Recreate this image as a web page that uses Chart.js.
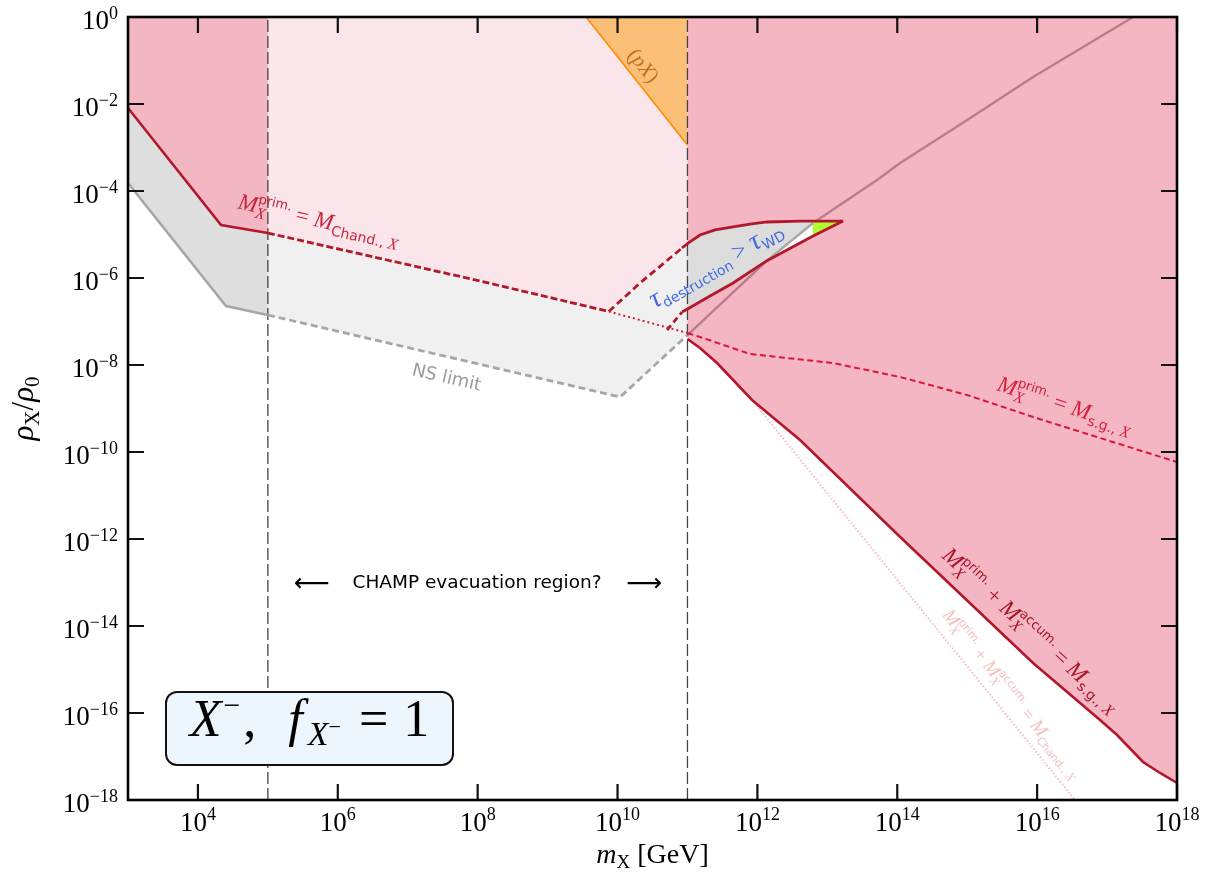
<!DOCTYPE html>
<html>
<head>
<meta charset="utf-8">
<script src="https://cdn.jsdelivr.net/npm/chart.js@4.4.1/dist/chart.umd.min.js"></script>
<style>
  body { margin: 0; background: #fff; }
  #wrap { width: 1219px; height: 879px; }
</style>
</head>
<body>
<div id="wrap"><canvas id="chart" width="1219" height="879"></canvas></div>
<script>
// ===== X^- , f = 1 : rho_X/rho_0 vs m_X =====

// tick exponents
const xTickExp = [4, 6, 8, 10, 12, 14, 16, 18];
const yTickExp = [0, -2, -4, -6, -8, -10, -12, -14, -16, -18];

// CHAMP evacuation region edges [GeV]
const champX = [1e5, 1e11];

// M_prim = M_Chand (solid / dashed / dotted parts)
const chandSolidX = [1e3, 2.14e4, 1e5];
const chandSolidY = [8.1e-3, 1.65e-5, 1.08e-5];
const chandDashX = [1e5, 1.08e8, 7.5e9];
const chandDashY = [1.08e-5, 8.53e-7, 1.7e-7];
const chandDotX = [7.5e9, 1e11];
const chandDotY = [1.7e-7, 5.44e-8];

// NS limit
const nsSolidX = [1e3, 2.52e4, 1e5];
const nsSolidY = [1.53e-4, 2.27e-7, 1.41e-7];
const nsDashX = [1e5, 1.09e10, 1e11];
const nsDashY = [1.41e-7, 1.84e-9, 4.89e-8];

// WD-type limit continuing the NS curve
const wdX = [1e11, 1.37e12, 6.25e12, 5.14e13, 1.10e14, 1e15, 8.75e15, 2.36e17];
const wdY = [4.89e-8, 2.5e-6, 1.84e-5, 1.79e-4, 4.40e-4, 4.29e-3, 4.18e-2, 1];

// tau_destruction > tau_WD island
const blobUpDashX = [7.5e9, 2.10e10, 8.36e10];
const blobUpDashY = [1.7e-7, 7.67e-7, 4.90e-6];
const blobUpX = [8.36e10, 1e11, 1.51e11, 2.48e11, 4.49e11, 7.85e11, 1.37e12, 4.07e12, 1.68e13];
const blobUpY = [4.90e-6, 6.15e-6, 9.74e-6, 1.27e-5, 1.49e-5, 1.74e-5, 1.94e-5, 2.04e-5, 2.04e-5];
const blobLowX = [8.36e10, 1e11, 2.10e11, 4.49e11, 1.37e12, 6.25e12, 1.68e13];
const blobLowY = [1.65e-7, 1.94e-7, 3.86e-7, 7.67e-7, 2.5e-6, 9.24e-6, 2.04e-5];
const blobLowDashX = [5.11e10, 8.36e10];
const blobLowDashY = [6.38e-8, 1.65e-7];
const greenX = [6.25e12, 1.68e13, 6.25e12];
const greenY = [2.04e-5, 2.04e-5, 9.24e-6];

// M_prim = M_sg
const sgX = [1e11, 1.51e11, 7.85e11, 1.21e13, 1.10e14, 1e15, 8.75e15, 7.94e16, 1e18];
const sgY = [5.44e-8, 4.40e-8, 1.79e-8, 1.11e-8, 5.30e-9, 2.04e-9, 6.38e-10, 2.10e-10, 5.89e-11];

// M_prim + M_accum = M_sg
const accumX = [1e11, 1.51e11, 2.65e11, 4.79e11, 8.38e11, 4.07e12, 1.10e14, 8.75e15, 7.94e16, 1.39e17, 3.27e17, 5.73e17, 1e18];
const accumY = [3.96e-8, 2.46e-8, 1.11e-8, 4.07e-9, 1.57e-9, 1.89e-10, 1.11e-12, 1.41e-15, 6.90e-17, 3.12e-17, 7.48e-18, 4.18e-18, 2.46e-18];

// M_prim + M_accum = M_Chand (faint)
const chandAccumX = [8.38e11, 3.48e16];
const chandAccumY = [1.57e-9, 1e-18];

// (pX) bound
const pxX = [3.55e9, 1e11];
const pxY = [1, 1.14e-3];

const X_MIN = 1e3, X_MAX = 1e18, Y_MIN = 1e-18, Y_MAX = 1;

// ---- helpers ----
const pts = (xs, ys) => xs.map((x, i) => ({ x, y: ys[i] }));
const P = (x, y) => ({ x, y });

function area(data, color, order) {
  return { data, showLine: true, fill: 'shape', backgroundColor: color,
           borderColor: 'rgba(0,0,0,0)', borderWidth: 0, pointRadius: 0, order };
}
function curve(data, color, width, dash, order) {
  return { data, showLine: true, fill: false, borderColor: color, borderWidth: width,
           borderDash: dash, pointRadius: 0, order };
}

// polygons built from the curves above
const darkPinkLeft = [P(X_MIN, Y_MAX), P(champX[0], Y_MAX), ...pts(chandSolidX, chandSolidY).reverse()];
const darkGrayLeft = [...pts(chandSolidX, chandSolidY), ...pts(nsSolidX, nsSolidY).reverse()];
const lightPink = [P(champX[0], Y_MAX), P(champX[1], Y_MAX), P(blobUpX[1], blobUpY[1]), P(blobUpX[0], blobUpY[0]),
  ...pts(blobUpDashX, blobUpDashY).reverse(), ...pts(chandDashX, chandDashY).reverse()];
const lightGray = [...pts(chandDashX, chandDashY), ...pts(blobUpDashX, blobUpDashY), P(blobUpX[1], blobUpY[1]),
  ...pts(nsDashX, nsDashY).reverse()];
const pinkRight = [P(champX[1], Y_MAX), P(X_MAX, Y_MAX), ...pts(accumX, accumY).reverse()];
const blobRight = [...pts(blobUpX, blobUpY).slice(1, 8), P(greenX[0], greenY[0]), P(wdX[2], wdY[2]), P(wdX[1], wdY[1]),
  ...pts(blobLowX, blobLowY).slice(1, 4).reverse()];
const sliver = [P(wdX[1], wdY[1]), P(wdX[2], wdY[2]), P(blobLowX[5], blobLowY[5])];
const pxTri = [P(pxX[0], pxY[0]), P(pxX[1], pxY[1]), P(pxX[1], Y_MAX)];

const RED = '#b2182b';
const datasets = [
  area(darkGrayLeft, '#dedede', 100),
  area(lightPink, '#fae5ea', 99),
  area(lightGray, '#f0f0f0', 98),
  area(darkPinkLeft, '#f3b6c3', 97),
  curve(pts(wdX, wdY), '#ababab', 2.4, [], 96),
  area(pinkRight, 'rgba(220,20,60,0.31)', 95),
  area(blobRight, '#dcdcdc', 94),
  area(sliver, '#ffffff', 93),
  area(pts(greenX, greenY), '#adff2f', 92),
  curve(pts(wdX.slice(1, 3), wdY.slice(1, 3)), '#a8a8a8', 2.4, [], 91),
  area(pxTri, '#fbbf78', 90),
  curve(pts(pxX, pxY), '#ff8c00', 1.6, [], 30),
  curve([P(champX[0], Y_MIN), P(champX[0], Y_MAX)], '#454545', 1.3, [12, 4], 29),
  curve([P(champX[1], Y_MIN), P(champX[1], Y_MAX)], '#454545', 1.3, [12, 4], 29),
  curve(pts(nsSolidX, nsSolidY), '#a6a6a6', 2.5, [], 25),
  curve(pts(nsDashX, nsDashY), '#a6a6a6', 2.8, [7, 4], 25),
  curve(pts(chandAccumX, chandAccumY), '#f2bcbc', 2, [1.5, 2], 24),
  curve(pts(chandSolidX, chandSolidY), RED, 2.6, [], 20),
  curve(pts(chandDashX, chandDashY), RED, 2.8, [7, 3], 20),
  curve(pts(chandDotX, chandDotY), '#cc1f3a', 2, [2, 3], 20),
  curve(pts(blobUpDashX, blobUpDashY), RED, 2.8, [7, 4], 20),
  curve(pts(blobUpX, blobUpY), RED, 2.8, [], 20),
  curve(pts(blobLowX, blobLowY), RED, 2.8, [], 20),
  curve(pts(blobLowDashX, blobLowDashY), RED, 2.8, [6, 4], 20),
  curve(pts(sgX, sgY), '#dc143c', 2, [6, 3.5], 20),
  curve(pts(accumX, accumY), RED, 2.6, [], 20)
];

// ---- text helpers ----
const SERIF = '"Liberation Serif", serif';
const SANS = '"DejaVu Sans", sans-serif';
const it = s => `italic ${s}px ${SERIF}`;
const rm = s => `${s}px ${SERIF}`;
const sf = s => `${s}px ${SANS}`;

function runsWidth(ctx, runs) {
  const w = runs.map(r => {
    const parts = r.sup ? [r.sup, r.sub] : [r];
    return Math.max(...parts.map(p => { ctx.font = p.f; return ctx.measureText(p.t).width; })) + (r.gap || 0);
  });
  return { w, total: w.reduce((a, b) => a + b, 0) };
}
function drawRich(ctx, runs, cx, cy, deg, color, off) {
  ctx.save();
  ctx.translate(cx, cy);
  ctx.rotate(deg * Math.PI / 180);
  ctx.fillStyle = color;
  ctx.textAlign = 'left';
  ctx.textBaseline = 'alphabetic';
  const { w, total } = runsWidth(ctx, runs);
  let x = -total / 2;
  runs.forEach((r, i) => {
    const parts = r.sup ? [r.sup, r.sub] : [r];
    parts.forEach(p => { ctx.font = p.f; ctx.fillText(p.t, x, off + (p.dy || 0)); });
    x += w[i];
  });
  ctx.restore();
}
const MX = (s, tag) => [
  { t: 'M', f: it(s) },
  { sup: { t: tag, f: sf(Math.round(s * 0.58)), dy: -s * 0.42 }, sub: { t: 'X', f: it(Math.round(s * 0.68)), dy: s * 0.22 } }
];
const Msub = (s, tag) => [
  { t: 'M', f: it(s) },
  { t: tag + ', ', f: sf(Math.round(s * 0.6)), dy: s * 0.22 },
  { t: 'X', f: it(Math.round(s * 0.68)), dy: s * 0.22 }
];

const decor = {
  id: 'decor',
  afterDatasetsDraw(chart) {
    const { ctx, chartArea: a } = chart;
    const xs = chart.scales.x, ys = chart.scales.y;
    ctx.save();

    // ticks (inward, all four sides)
    ctx.strokeStyle = '#111';
    ctx.lineWidth = 2.2;
    ctx.beginPath();
    xTickExp.forEach(e => {
      const px = xs.getPixelForValue(Math.pow(10, e));
      ctx.moveTo(px, a.bottom); ctx.lineTo(px, a.bottom - 16);
      ctx.moveTo(px, a.top); ctx.lineTo(px, a.top + 16);
    });
    yTickExp.forEach(e => {
      const py = ys.getPixelForValue(Math.pow(10, e));
      ctx.moveTo(a.left, py); ctx.lineTo(a.left + 16, py);
      ctx.moveTo(a.right, py); ctx.lineTo(a.right - 16, py);
    });
    ctx.stroke();

    // frame
    ctx.strokeStyle = '#000';
    ctx.lineWidth = 2.6;
    ctx.strokeRect(a.left, a.top, a.right - a.left, a.bottom - a.top);

    // tick labels
    const expTxt = e => (e < 0 ? '\u2212' + (-e) : String(e));
    xTickExp.forEach(e => {
      const px = xs.getPixelForValue(Math.pow(10, e));
      drawRich(ctx, [{ t: '10', f: rm(27) }, { t: expTxt(e), f: rm(18), dy: -11 }], px, a.bottom + 31, 0, '#000', 0);
    });
    yTickExp.forEach(e => {
      const py = ys.getPixelForValue(Math.pow(10, e));
      const runs = [{ t: '10', f: rm(27) }, { t: expTxt(e), f: rm(18), dy: -10 }];
      const { total } = runsWidth(ctx, runs);
      drawRich(ctx, runs, a.left - 10 - total / 2, py + 12, 0, '#000', 0);
    });

    // axis titles
    drawRich(ctx, [{ t: 'm', f: it(28) }, { t: 'X', f: rm(19), dy: 5 }, { t: ' [GeV]', f: rm(28) }],
      (a.left + a.right) / 2, 863, 0, '#000', 0);
    drawRich(ctx, [{ t: '\u03c1', f: it(31) }, { t: 'X', f: rm(21), dy: 6 }, { t: '/', f: rm(31) },
      { t: '\u03c1', f: it(31) }, { t: '0', f: rm(21), dy: 6 }],
      33, (a.top + a.bottom) / 2, -90, '#000', 0);

    // curve annotations
    drawRich(ctx, [...MX(23, 'prim.'), { t: ' = ', f: rm(23) }, ...Msub(23, 'Chand.')], 319, 220, 13, '#c8243c', 7);
    drawRich(ctx, [{ t: 'NS limit', f: sf(18) }], 447, 376, 13, '#9b9b9b', 7);
    drawRich(ctx, [{ t: '(', f: rm(21) }, { t: 'pX', f: it(21) }, { t: ')', f: rm(21) }], 643, 66, 51.5, '#c0701e', 6);
    drawRich(ctx, [{ t: '\u03c4', f: it(28) }, { t: 'destruction', f: sf(14), dy: 5 }, { t: ' > ', f: rm(24) },
      { t: '\u03c4', f: it(28) }, { t: 'WD', f: sf(14), dy: 5 }], 716, 265, -30, '#4169e1', 7);
    drawRich(ctx, [...MX(23, 'prim.'), { t: ' = ', f: rm(23) }, ...Msub(23, 's.g.')], 1065, 405, 18, '#d81e3e', 7);
    drawRich(ctx, [...MX(23, 'prim.'), { t: ' + ', f: rm(23) }, ...MX(23, 'accum.'), { t: ' = ', f: rm(23) }, ...Msub(23, 's.g.')],
      1031, 630, 42.5, '#a8142a', 7);
    drawRich(ctx, [...MX(19, 'prim.'), { t: ' + ', f: rm(19) }, ...MX(19, 'accum.'), { t: ' = ', f: rm(19) }, ...Msub(19, 'Chand.')],
      1012, 694, 51.5, '#f2c0c0', 6);

    // CHAMP region note
    ctx.fillStyle = '#000';
    ctx.textBaseline = 'middle';
    ctx.textAlign = 'center';
    ctx.font = sf(18.5);
    ctx.fillText('CHAMP evacuation region?', 477, 583);
    ctx.font = sf(25);
    ctx.fillText('\u27f5', 312, 584);
    ctx.fillText('\u27f6', 644, 584);

    // label box
    const bx = a.left + 38, by = a.bottom - 108, bw = 287, bh = 73;
    ctx.beginPath();
    ctx.roundRect(bx, by, bw, bh, 11);
    ctx.fillStyle = '#edf5fd';
    ctx.fill();
    ctx.lineWidth = 2;
    ctx.strokeStyle = '#111';
    ctx.stroke();
    drawRich(ctx, [{ t: 'X', f: it(52), gap: 2 }, { t: '\u2212', f: rm(30), dy: -21, gap: 3 }, { t: ',', f: rm(52), gap: 32 },
      { t: 'f', f: it(52), gap: 5 }, { t: 'X', f: it(34), dy: 9 }, { t: '\u2212', f: rm(22), dy: -2, gap: 18 },
      { t: '=', f: rm(52), gap: 15 }, { t: '1', f: rm(52) }],
      bx + bw / 2, by + 44, 0, '#000', 0);

    ctx.restore();
  }
};

new Chart(document.getElementById('chart'), {
  type: 'scatter',
  data: { datasets },
  options: {
    responsive: false,
    animation: false,
    events: [],
    layout: { padding: { left: 128, top: 17, right: 42, bottom: 79 } },
    plugins: { legend: { display: false }, tooltip: { enabled: false } },
    scales: {
      x: { type: 'logarithmic', min: X_MIN, max: X_MAX, display: false },
      y: { type: 'logarithmic', min: Y_MIN, max: Y_MAX, display: false }
    }
  },
  plugins: [decor]
});
</script>
</body>
</html>
